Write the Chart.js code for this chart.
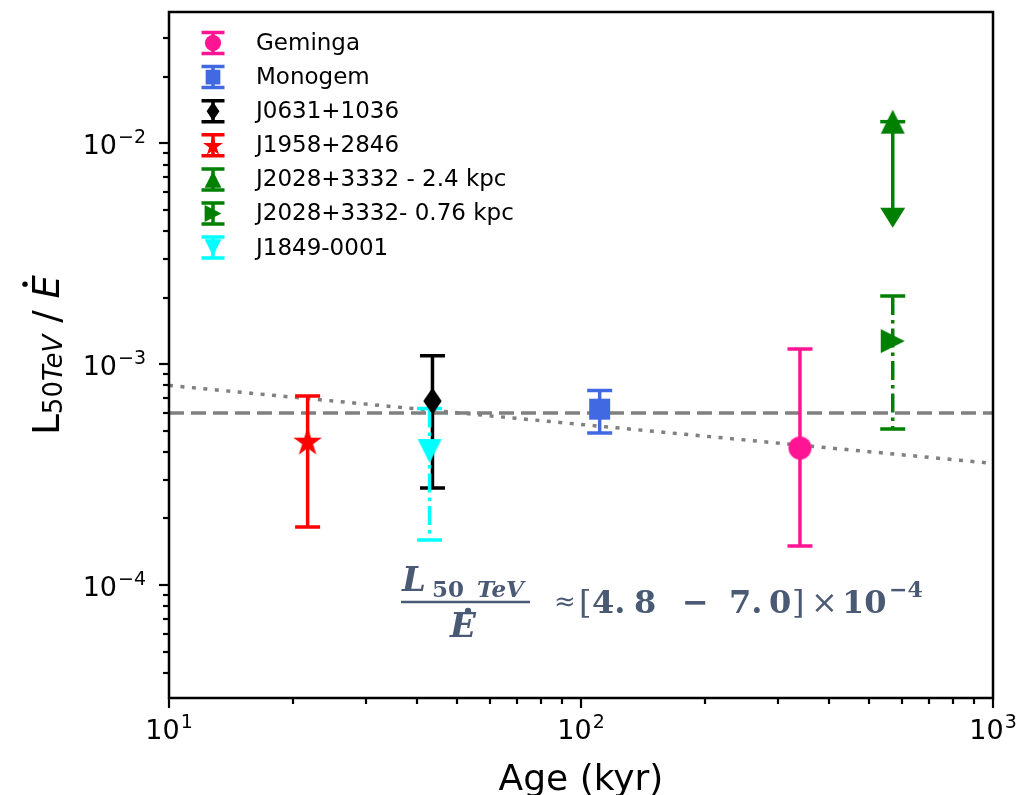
<!DOCTYPE html>
<html>
<head>
<meta charset="utf-8">
<script src="https://cdn.jsdelivr.net/npm/chart.js@4.4.1/dist/chart.umd.min.js"></script>
<style>
  html, body { margin: 0; padding: 0; background: #fff; }
  #wrap { width: 1019px; height: 795px; }
</style>
</head>
<body>
<div id="wrap"><canvas id="ratioChart" width="1019" height="795"></canvas></div>
<script>
// --- DATA ---
const sources   = ['Geminga', 'Monogem', 'J0631+1036', 'J1958+2846', 'J2028+3332 - 2.4 kpc', 'J2028+3332- 0.76 kpc', 'J1849-0001'];
const ages      = [340, 111, 43.6, 21.7, 571, 571, 42.9];               // kyr
const ratios    = [4.17e-4, 6.25e-4, 6.8e-4, 4.49e-4, 1.25e-2, 1.27e-3, 4.04e-4];
const ratioLow  = [1.50e-4, 4.88e-4, 2.75e-4, 1.83e-4, 5.1e-3, 5.08e-4, 1.60e-4];
const ratioHigh = [1.17e-3, 7.60e-4, 1.09e-3, 7.17e-4, 1.25e-2, 2.03e-3, 6.3e-4];
const lowerArrow = [false, false, false, false, true, false, false];
const colors    = ['#ff1493', '#4169e1', '#000000', '#ff0000', '#008000', '#008000', '#00ffff'];
const markers   = ['circle', 'square', 'thinDiamond', 'star', 'triUp', 'triRight', 'triDown'];
const dashDot   = [false, false, false, false, false, true, true];

// flat band and age trend
const bandAges   = [10, 1000];
const bandRatio  = [6.0e-4, 6.0e-4];
const trendAges  = [10, 1000];
const trendRatio = [8.0e-4, 3.55e-4];

// axis ticks
const xMajor = [10, 100, 1000];
const xExp   = ['1', '2', '3'];
const yMajor = [1e-4, 1e-3, 1e-2];
const yExp   = ['\u22124', '\u22123', '\u22122'];

// --- MARKERS ---
const markerSize = { circle: 11.5, square: 10.5, thinDiamond: 13.5, star: 15, triUp: 12, triRight: 12, triDown: 12 };

function markerPath(ctx, shape, s) {
  ctx.beginPath();
  switch (shape) {
    case 'circle': ctx.arc(0, 0, s, 0, Math.PI * 2); break;
    case 'square': ctx.rect(-s, -s, 2 * s, 2 * s); break;
    case 'thinDiamond':
      ctx.moveTo(0, -s); ctx.lineTo(s * 0.68, 0); ctx.lineTo(0, s); ctx.lineTo(-s * 0.68, 0); break;
    case 'star':
      for (let i = 0; i < 10; i++) {
        const r = i % 2 ? s * 0.382 : s;
        const a = -Math.PI / 2 + i * Math.PI / 5;
        ctx.lineTo(r * Math.cos(a), r * Math.sin(a) + s * 0.1);
      }
      break;
    case 'triUp': ctx.moveTo(0, -s); ctx.lineTo(s, s); ctx.lineTo(-s, s); break;
    case 'triDown': ctx.moveTo(0, s); ctx.lineTo(s, -s); ctx.lineTo(-s, -s); break;
    case 'triRight': ctx.moveTo(s, 0); ctx.lineTo(-s, -s); ctx.lineTo(-s, s); break;
  }
  ctx.closePath();
}

function markerImage(shape, color, scale) {
  const s = markerSize[shape] * (scale || 1);
  const c = document.createElement('canvas');
  const size = Math.ceil(2 * s + 4);
  c.width = size; c.height = size;
  const ctx = c.getContext('2d');
  ctx.translate(size / 2, size / 2);
  markerPath(ctx, shape, s);
  ctx.fillStyle = color;
  ctx.fill();
  return c;
}

// --- DATASETS ---
const datasets = sources.map((name, i) => ({
  label: name,
  data: [{ x: ages[i], y: ratios[i] }],
  pointStyle: markerImage(markers[i], colors[i]),
  pointRadius: 10,
  backgroundColor: colors[i],
  borderColor: colors[i],
  order: 1
}));

datasets.push({
  type: 'line',
  label: 'band',
  data: bandAges.map((a, i) => ({ x: a, y: bandRatio[i] })),
  borderColor: '#808080',
  borderWidth: 3.5,
  borderDash: [15, 7],
  pointRadius: 0,
  order: 2
});
datasets.push({
  type: 'line',
  label: 'trend',
  data: trendAges.map((a, i) => ({ x: a, y: trendRatio[i] })),
  borderColor: '#808080',
  borderWidth: 3.5,
  borderDash: [4, 7.5],
  pointRadius: 0,
  order: 2
});

// --- ERROR BARS (between reference lines and markers) ---
function drawErrorBars(chart) {
  const ctx = chart.ctx;
  const xs = chart.scales.x, ys = chart.scales.y;
  ctx.save();
  sources.forEach((_, i) => {
    const px = xs.getPixelForValue(ages[i]);
    const top = ys.getPixelForValue(ratioHigh[i]);
    const bot = ys.getPixelForValue(ratioLow[i]);
    ctx.strokeStyle = colors[i];
    ctx.fillStyle = colors[i];
    ctx.lineWidth = 3.5;
    ctx.lineCap = 'butt';
    ctx.setLineDash(dashDot[i] ? [19, 5, 3.5, 5] : []);
    ctx.beginPath();
    ctx.moveTo(px, top);
    ctx.lineTo(px, lowerArrow[i] ? bot + 10 : bot);
    ctx.stroke();
    ctx.setLineDash([]);
    // caps
    ctx.beginPath();
    ctx.moveTo(px - 12.5, top); ctx.lineTo(px + 12.5, top);
    if (!lowerArrow[i]) { ctx.moveTo(px - 12.5, bot); ctx.lineTo(px + 12.5, bot); }
    ctx.stroke();
    if (lowerArrow[i]) {
      ctx.beginPath();
      ctx.moveTo(px - 12.5, bot); ctx.lineTo(px + 12.5, bot); ctx.lineTo(px, bot + 20);
      ctx.closePath();
      ctx.fill();
    }
  });
  ctx.restore();
}

const errorBarPlugin = {
  id: 'errorBars',
  beforeDraw(chart) { chart.$errDone = false; },
  beforeDatasetDraw(chart, args) {
    if (args.meta.type === 'line' || chart.$errDone) return;
    chart.$errDone = true;
    drawErrorBars(chart);
  }
};

// --- AXES, FRAME, LEGEND, LABELS ---
const SANS = '"DejaVu Sans", sans-serif';
const SERIF = '"DejaVu Serif", serif';

function drawPower(ctx, exp, x, y, align) {
  ctx.font = '27px ' + SANS;
  const wb = ctx.measureText('10').width;
  ctx.font = '19px ' + SANS;
  const we = ctx.measureText(exp).width;
  const total = wb + 1 + we;
  const x0 = align === 'right' ? x - total : x - total / 2;
  ctx.textAlign = 'left';
  ctx.textBaseline = 'alphabetic';
  ctx.font = '27px ' + SANS;
  ctx.fillText('10', x0, y);
  ctx.font = '19px ' + SANS;
  ctx.fillText(exp, x0 + wb + 1, y - 11);
}

function logTicks(min, max) {
  const out = [];
  for (let e = Math.floor(Math.log10(min)); e <= Math.ceil(Math.log10(max)); e++) {
    for (let m = 1; m <= 9; m++) {
      const v = m * Math.pow(10, e);
      if (v >= min * 0.9999 && v <= max * 1.0001) out.push({ v, major: m === 1 });
    }
  }
  return out;
}

function drawAxes(chart) {
  const ctx = chart.ctx;
  const a = chart.chartArea;
  const xs = chart.scales.x, ys = chart.scales.y;
  ctx.save();
  ctx.strokeStyle = '#000';
  ctx.fillStyle = '#000';
  ctx.lineWidth = 2.2;
  logTicks(xs.min, xs.max).forEach(t => {
    const px = Math.round(xs.getPixelForValue(t.v));
    ctx.beginPath();
    ctx.moveTo(px, a.bottom); ctx.lineTo(px, a.bottom + (t.major ? 10 : 6));
    ctx.stroke();
  });
  logTicks(ys.min, ys.max).forEach(t => {
    const py = Math.round(ys.getPixelForValue(t.v));
    ctx.beginPath();
    ctx.moveTo(a.left, py); ctx.lineTo(a.left - (t.major ? 10 : 6), py);
    ctx.stroke();
  });
  ctx.lineWidth = 2.5;
  ctx.strokeRect(a.left, a.top, a.right - a.left, a.bottom - a.top);

  xMajor.forEach((v, i) => drawPower(ctx, xExp[i], xs.getPixelForValue(v), a.bottom + 41, 'center'));
  yMajor.forEach((v, i) => drawPower(ctx, yExp[i], a.left - 23, ys.getPixelForValue(v) + 11, 'right'));

  // x title
  ctx.font = '36px ' + SANS;
  ctx.textAlign = 'center';
  ctx.fillText('Age (kyr)', (a.left + a.right) / 2, 790);

  // y title, rotated
  ctx.save();
  ctx.translate(59, (a.top + a.bottom) / 2);
  ctx.rotate(-Math.PI / 2);
  ctx.textAlign = 'left';
  const parts = [
    { t: 'L', f: '37px ' + SANS, dy: 0 },
    { t: '50', f: '26px ' + SANS, dy: 3 },
    { t: 'TeV', f: 'italic 26px ' + SANS, dy: 3 },
    { t: ' / ', f: '37px ' + SANS, dy: 0 },
    { t: 'E', f: 'italic 37px ' + SANS, dy: 0 }
  ];
  let total = 0;
  parts.forEach(p => { ctx.font = p.f; p.w = ctx.measureText(p.t).width; total += p.w; });
  let x = -total / 2;
  parts.forEach(p => {
    ctx.font = p.f;
    ctx.fillText(p.t, x, p.dy);
    if (p.t === 'E') {
      ctx.beginPath();
      ctx.arc(x + p.w * 0.62, -34, 2.7, 0, Math.PI * 2);
      ctx.fill();
    }
    x += p.w;
  });
  ctx.restore();
  ctx.restore();
}

function drawLegend(chart) {
  const ctx = chart.ctx;
  ctx.save();
  sources.forEach((name, i) => {
    const cy = 43 + i * 34.1;
    const cx = 213;
    ctx.strokeStyle = colors[i];
    ctx.lineWidth = 3.5;
    ctx.beginPath();
    ctx.moveTo(cx, cy - 10.5); ctx.lineTo(cx, cy + 10.5);
    ctx.moveTo(cx - 11.5, cy - 10.5); ctx.lineTo(cx + 11.5, cy - 10.5);
    ctx.moveTo(cx - 11.5, cy + 10.5); ctx.lineTo(cx + 11.5, cy + 10.5);
    ctx.stroke();
    ctx.save();
    ctx.translate(cx, cy);
    markerPath(ctx, markers[i], markerSize[markers[i]] * 0.7);
    ctx.fillStyle = colors[i];
    ctx.fill();
    ctx.restore();
    ctx.fillStyle = '#000';
    ctx.font = '23px ' + SANS;
    ctx.textAlign = 'left';
    ctx.textBaseline = 'middle';
    ctx.fillText(name, 256, cy + 1);
  });
  ctx.restore();
}

function drawRatioNote(chart) {
  const ctx = chart.ctx;
  const col = '#4a5a74';
  ctx.save();
  ctx.fillStyle = col;
  ctx.strokeStyle = col;
  ctx.textAlign = 'left';
  ctx.textBaseline = 'alphabetic';
  // numerator L_{50 TeV}
  ctx.font = 'bold italic 34px ' + SERIF;
  ctx.fillText('L', 402, 591);
  ctx.font = 'bold 23px ' + SERIF;
  ctx.fillText('50', 432, 597);
  ctx.font = 'bold italic 23px ' + SERIF;
  ctx.fillText('TeV', 477, 597);
  // fraction bar
  ctx.lineWidth = 2.5;
  ctx.beginPath();
  ctx.moveTo(401, 602); ctx.lineTo(530, 602);
  ctx.stroke();
  // denominator E with dot
  ctx.font = 'bold italic 34px ' + SERIF;
  ctx.fillText('E', 450, 637);
  ctx.beginPath();
  ctx.arc(468, 611, 3.2, 0, Math.PI * 2);
  ctx.fill();
  // right-hand side
  ctx.font = '26px ' + SERIF;
  ctx.fillText('\u2248', 554, 610);
  ctx.font = '32px ' + SERIF;
  ctx.fillText('[', 579, 613);
  ctx.font = 'bold 32px ' + SERIF;
  ctx.fillText('4.', 592, 613);
  ctx.fillText('8', 634, 613);
  ctx.fillText('\u2212', 682, 613);
  ctx.fillText('7.', 729, 613);
  ctx.fillText('0', 769, 613);
  ctx.font = '32px ' + SERIF;
  ctx.fillText(']', 792, 613);
  ctx.fillText('\u00d7', 811, 613);
  ctx.font = 'bold 32px ' + SERIF;
  ctx.fillText('10', 842, 613);
  ctx.font = 'bold 22px ' + SERIF;
  ctx.fillText('\u22124', 889, 597);
  ctx.restore();
}

const decorPlugin = {
  id: 'decor',
  afterDraw(chart) {
    drawAxes(chart);
    drawLegend(chart);
    drawRatioNote(chart);
  }
};

new Chart(document.getElementById('ratioChart'), {
  type: 'scatter',
  data: { datasets },
  options: {
    responsive: false,
    animation: false,
    devicePixelRatio: 1,
    layout: { padding: { top: 12, right: 26, left: 0, bottom: 0 } },
    plugins: { legend: { display: false }, tooltip: { enabled: false } },
    scales: {
      x: {
        type: 'logarithmic', min: 10, max: 1000,
        grid: { display: false }, border: { display: false },
        ticks: { display: false },
        afterFit: s => { s.height = 97; }
      },
      y: {
        type: 'logarithmic', min: 3.08e-5, max: 3.92e-2,
        grid: { display: false }, border: { display: false },
        ticks: { display: false },
        afterFit: s => { s.width = 169; }
      }
    }
  },
  plugins: [errorBarPlugin, decorPlugin]
});
</script>
</body>
</html>
